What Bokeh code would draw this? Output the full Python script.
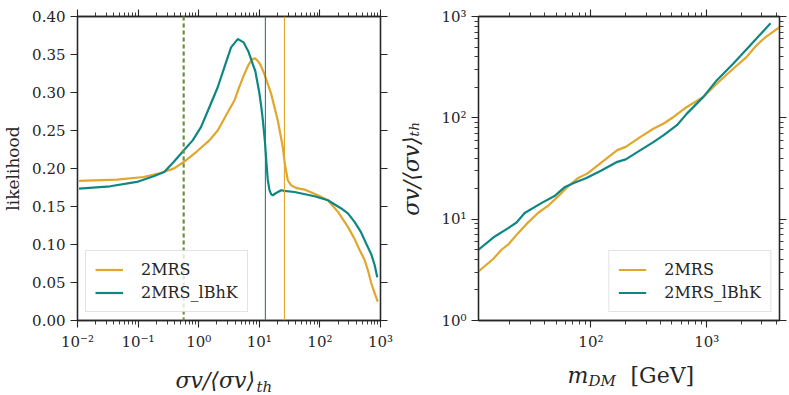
import math
from bokeh.plotting import figure
from bokeh.models import (FixedTicker, LinearAxis, LogAxis, CustomJSTickFormatter,
                          NumeralTickFormatter, Span, Legend, LegendItem, Label, Range1d)
from bokeh.layouts import row, column
from bokeh.embed import file_html
from bokeh.resources import INLINE

ORANGE = "#E1A72C"
TEAL = "#0E8784"
AX = "#262626"
FONT = "DejaVu Serif"

# ---- left panel: likelihood vs sigma v / <sigma v>_th ----
sv_2mrs = [0.0106, 0.0447, 0.123, 0.232, 0.386, 0.565, 0.95, 1.50, 2.06, 2.82, 3.88, 4.69,
           5.68, 6.6, 7.6, 8.5, 9.44, 10.5, 12.1, 15.7, 20.2, 24.4, 26.5, 29.6, 33.6, 40.0,
           55.6, 92.7, 135.5, 198.6, 290, 370, 452, 547, 620, 705, 800, 900]
like_2mrs = [0.1836, 0.1854, 0.1888, 0.1941, 0.1998, 0.2085, 0.2230, 0.2370, 0.2501, 0.2697,
             0.2894, 0.3078, 0.3244, 0.3360, 0.3435, 0.3452, 0.3415, 0.3360, 0.3244, 0.2982,
             0.2632, 0.2282, 0.2050, 0.1845, 0.1779, 0.1745, 0.1723, 0.1648, 0.1583, 0.1429,
             0.1232, 0.1080, 0.0927, 0.0796, 0.0660, 0.0490, 0.0360, 0.0249]

sv_lbhk = [0.0106, 0.0346, 0.0955, 0.180, 0.270, 0.386, 0.565, 0.796, 1.09, 1.50, 2.06, 2.65,
           3.42, 4.41, 5.5, 6.6, 7.6, 8.6, 10.0, 10.7, 11.4, 12.4, 12.9, 13.8, 14.7, 15.7,
           16.7, 19.0, 22.9, 26.0, 38.0, 81.5, 135.5, 225, 290, 373, 470, 582, 705, 800, 885]
like_lbhk = [0.1736, 0.1766, 0.1823, 0.1897, 0.1954, 0.2085, 0.2238, 0.2370, 0.2544, 0.2806,
             0.3069, 0.3331, 0.3593, 0.3703, 0.3660, 0.3540, 0.3400, 0.3280, 0.3000, 0.2830,
             0.2650, 0.2350, 0.2150, 0.1850, 0.1720, 0.1660, 0.1648, 0.1678, 0.1714, 0.1705,
             0.1691, 0.1635, 0.1583, 0.1474, 0.1410, 0.1298, 0.1170, 0.1010, 0.0870, 0.0730,
             0.0569]

limit_2mrs = 26.0
limit_lbhk = 12.6
lower_mark = 0.565

left_xticks = [1e-2, 1e-1, 1e0, 1e1, 1e2, 1e3]
left_yticks = [0.0, 0.05, 0.10, 0.15, 0.20, 0.25, 0.30, 0.35, 0.40]

# ---- right panel: sigma v / <sigma v>_th vs m_DM ----
m_2mrs = [10.7, 14.4, 16.9, 19.6, 23.5, 27.7, 34.9, 42.5, 51.8, 63.1, 76.9, 93.7, 122, 169,
          200, 268, 349, 425, 517, 674, 936, 1219, 1692, 2203, 2680, 3266, 4250]
ratio_2mrs = [3.05, 4.07, 4.99, 5.71, 7.28, 8.93, 11.5, 13.5, 16.7, 20.9, 25.3, 28.3, 36.0,
              48.0, 51.7, 64.9, 78.5, 87.9, 102, 128, 161, 217, 305, 397, 518, 634, 783]

m_lbhk = [10.7, 14.8, 19.3, 22.8, 26.8, 37.3, 48.5, 59.1, 72.0, 90.6, 122, 169, 200, 268, 349,
          425, 553, 674, 936, 1219, 1692, 2512, 3556]
ratio_lbhk = [4.99, 6.75, 8.15, 9.27, 11.5, 14.4, 16.9, 20.6, 22.9, 25.3, 30.1, 36.8, 38.9,
              48.0, 57.9, 67.4, 84.6, 110, 161, 234, 342, 557, 857]

right_xticks = [1e2, 1e3]
right_yticks = [1e0, 1e1, 1e2, 1e3]

series_names = ["2MRS", "2MRS_lBhK"]

pow_fmt = CustomJSTickFormatter(code="""
const e = Math.round(Math.log10(tick));
const sup = {'-':'\u207b','0':'\u2070','1':'\u00b9','2':'\u00b2','3':'\u00b3','4':'\u2074',
             '5':'\u2075','6':'\u2076','7':'\u2077','8':'\u2078','9':'\u2079'};
return '10' + String(e).split('').map(c => sup[c]).join('');
""")
blank_fmt = CustomJSTickFormatter(code="return '';")


def minor_log(lo, hi):
    out = []
    e = math.floor(math.log10(lo))
    while 10 ** e <= hi:
        for k in range(2, 10):
            v = k * 10 ** e
            if lo <= v <= hi:
                out.append(v)
        e += 1
    return out


def style_axis(ax, labels=True):
    ax.axis_line_color = AX
    ax.axis_line_width = 1.3
    ax.major_tick_line_color = AX
    ax.minor_tick_line_color = AX
    ax.major_tick_line_width = 1.1
    ax.minor_tick_line_width = 0.9
    ax.major_tick_out = 7
    ax.major_tick_in = 0
    ax.minor_tick_out = 4
    ax.minor_tick_in = 0
    ax.major_label_text_font = FONT
    ax.major_label_text_color = AX
    ax.major_label_text_font_size = "15px"
    if not labels:
        ax.major_label_text_font_size = "1px"
        ax.major_label_standoff = 0


def style_fig(p):
    p.grid.visible = False
    p.outline_line_color = AX
    p.outline_line_width = 1.3
    p.background_fill_color = "white"
    p.border_fill_color = "white"


def style_legend(lg):
    lg.label_text_font = FONT
    lg.label_text_font_size = "16px"
    lg.label_text_color = AX
    lg.glyph_width = 28
    lg.glyph_height = 17
    lg.label_standoff = 18
    lg.label_height = 17
    lg.padding = 9
    lg.spacing = 4
    lg.margin = 8
    lg.border_line_color = "#c8c8c8"
    lg.border_line_width = 1
    lg.background_fill_alpha = 0.8


def text_label(text, x, y, size, style="italic"):
    return Label(x=x, y=y, x_units="screen", y_units="screen",
                 text=text, text_font=FONT, text_font_style=style,
                 text_font_size=size, text_color=AX, text_baseline="alphabetic")


def strip(width, height):
    s = figure(width=width, height=height, x_axis_type=None, y_axis_type=None,
               x_range=Range1d(0, 1), y_range=Range1d(0, 1),
               output_backend="svg", toolbar_location=None, min_border=0)
    s.grid.visible = False
    s.outline_line_color = None
    s.background_fill_color = "white"
    s.border_fill_color = "white"
    return s


TOP_H = 353
STRIP_H = 42

# ================= left figure =================
p1 = figure(width=396, height=TOP_H, x_axis_type="log",
            x_range=Range1d(1e-2, 1e3), y_range=Range1d(0, 0.4),
            output_backend="svg", toolbar_location=None,
            min_border_left=77, min_border_right=16, min_border_top=16, min_border_bottom=32)
style_fig(p1)

xt1 = FixedTicker(ticks=left_xticks, minor_ticks=minor_log(1e-2, 1e3))
yt1 = FixedTicker(ticks=left_yticks, minor_ticks=[])

p1.xaxis.ticker = xt1
p1.xaxis.formatter = pow_fmt
p1.yaxis.ticker = yt1
p1.yaxis.formatter = NumeralTickFormatter(format="0.00")
style_axis(p1.xaxis[0])
style_axis(p1.yaxis[0])
p1.yaxis.axis_label = "likelihood"
p1.yaxis.axis_label_text_font = FONT
p1.yaxis.axis_label_text_font_style = "normal"
p1.yaxis.axis_label_text_font_size = "17px"
p1.yaxis.axis_label_text_color = AX
p1.yaxis.axis_label_standoff = 6

top1 = LogAxis(ticker=xt1, formatter=blank_fmt)
style_axis(top1, labels=False)
p1.add_layout(top1, "above")
right1 = LinearAxis(ticker=yt1, formatter=blank_fmt)
style_axis(right1, labels=False)
p1.add_layout(right1, "right")

r1a = p1.line(sv_2mrs, like_2mrs, line_color=ORANGE, line_width=2.2)
r1b = p1.line(sv_lbhk, like_lbhk, line_color=TEAL, line_width=2.2)

p1.add_layout(Span(location=limit_lbhk, dimension="height", line_color=TEAL, line_width=1.1))
p1.add_layout(Span(location=limit_2mrs, dimension="height", line_color=ORANGE, line_width=1.1))
p1.add_layout(Span(location=lower_mark, dimension="height", line_color=ORANGE,
                   line_width=2, line_dash="4 3"))
p1.add_layout(Span(location=lower_mark, dimension="height", line_color=TEAL,
                   line_width=2, line_dash="4 3", line_alpha=0.65))

lg1 = Legend(items=[LegendItem(label=series_names[0], renderers=[r1a]),
                    LegendItem(label=series_names[1], renderers=[r1b])],
             location="bottom_left")
style_legend(lg1)
p1.add_layout(lg1)

s1 = strip(396, STRIP_H)
s1.add_layout(text_label("\u03c3v/\u27e8\u03c3v\u27e9", 175, 15, "22px"))
s1.add_layout(text_label("th", 256, 9, "15px"))

# ================= right figure =================
p2 = figure(width=392, height=TOP_H, x_axis_type="log", y_axis_type="log",
            x_range=Range1d(10.7, 4250), y_range=Range1d(1, 1000),
            output_backend="svg", toolbar_location=None,
            min_border_left=81, min_border_right=9, min_border_top=16, min_border_bottom=32)
style_fig(p2)

xt2 = FixedTicker(ticks=right_xticks, minor_ticks=minor_log(10.7, 4250))
yt2 = FixedTicker(ticks=right_yticks, minor_ticks=minor_log(1, 1000))
p2.xaxis.ticker = xt2
p2.xaxis.formatter = pow_fmt
p2.yaxis.ticker = yt2
p2.yaxis.formatter = pow_fmt
style_axis(p2.xaxis[0])
style_axis(p2.yaxis[0])
p2.yaxis.axis_label = "\u03c3v/\u27e8\u03c3v\u27e9\u209c\u2095"
p2.yaxis.axis_label_text_font = FONT
p2.yaxis.axis_label_text_font_style = "italic"
p2.yaxis.axis_label_text_font_size = "22px"
p2.yaxis.axis_label_text_color = AX
p2.yaxis.axis_label_standoff = 14

top2 = LogAxis(ticker=xt2, formatter=blank_fmt)
style_axis(top2, labels=False)
p2.add_layout(top2, "above")
right2 = LogAxis(ticker=yt2, formatter=blank_fmt)
style_axis(right2, labels=False)
p2.add_layout(right2, "right")

r2a = p2.line(m_2mrs, ratio_2mrs, line_color=ORANGE, line_width=2.2)
r2b = p2.line(m_lbhk, ratio_lbhk, line_color=TEAL, line_width=2.2)

lg2 = Legend(items=[LegendItem(label=series_names[0], renderers=[r2a]),
                    LegendItem(label=series_names[1], renderers=[r2b])],
             location="bottom_right")
style_legend(lg2)
p2.add_layout(lg2)

s2 = strip(392, STRIP_H)
s2.add_layout(text_label("m", 567 - 396, 20, "22px"))
s2.add_layout(text_label("DM", 588 - 396, 15, "15px"))
s2.add_layout(text_label("[GeV]", 630 - 396, 20, "22px", style="normal"))

layout = column(row(p1, p2), row(s1, s2))
open("out.html", "w").write(file_html(layout, INLINE))
